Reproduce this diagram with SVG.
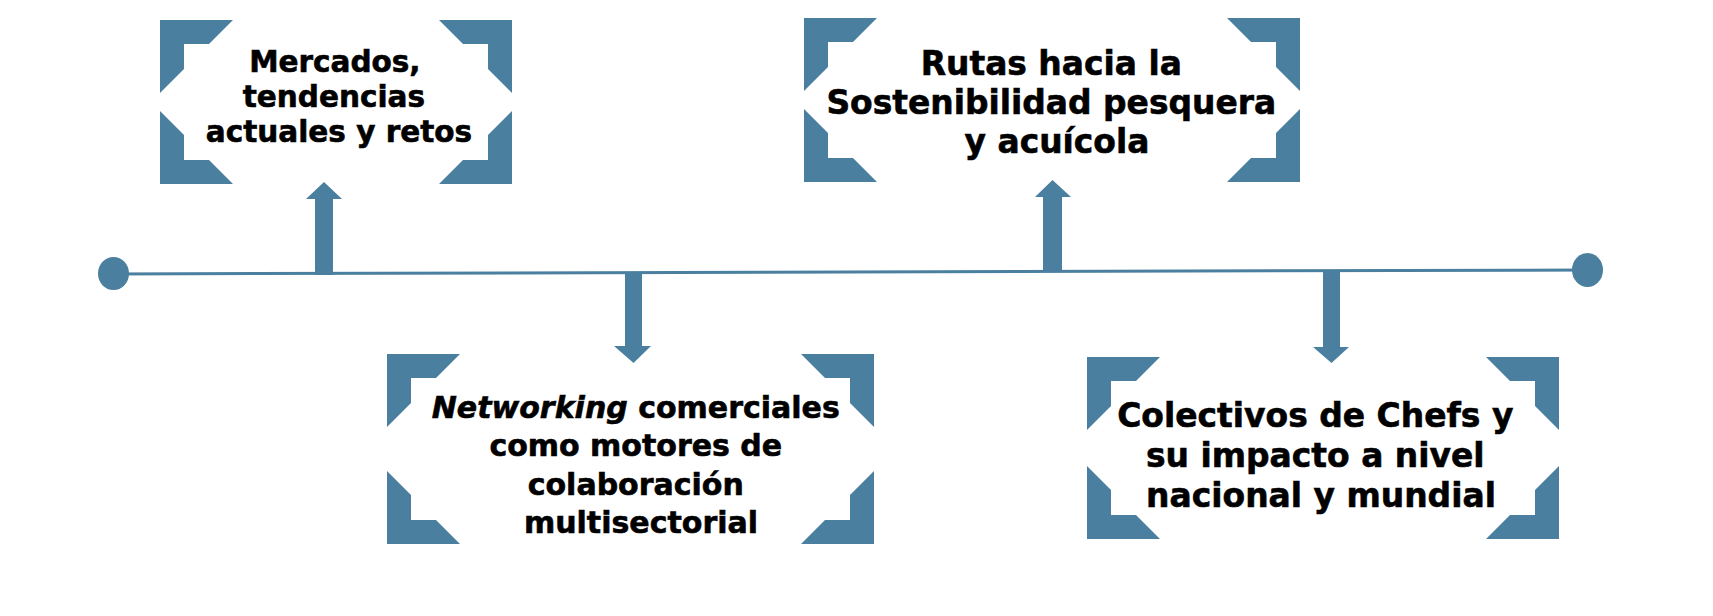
<svg xmlns="http://www.w3.org/2000/svg" width="1713" height="616" viewBox="0 0 1713 616">
<style>
  .br { fill: #4a7f9f; }
  .fl { fill: #4a7f9f; }
  .ln { stroke: #4a7f9f; stroke-width: 3; fill: none; }
  .t { font-family: "DejaVu Sans", "Verdana", sans-serif; font-weight: bold; fill: #000; stroke: #000; stroke-width: 0.6; text-anchor: middle; }
</style>
<defs>
  <path id="corner" d="M0,0 H73 L49,24 H24 V49 L0,73 Z"/>
</defs>
<rect width="1713" height="616" fill="#ffffff"/>

<g id="connectors">
  <line class="ln" x1="113" y1="274" x2="1587" y2="270"/>
  <ellipse class="fl" cx="113.5" cy="273.5" rx="15.5" ry="16.5"/>
  <ellipse class="fl" cx="1587.5" cy="270" rx="15.5" ry="17"/>
  <polygon class="fl" points="315,275 315,199 306,199 324,182 342,199 333,199 333,275"/>
  <polygon class="fl" points="625,272 642,272 642,346 651,346 633.5,363 614,346 625,346"/>
  <polygon class="fl" points="1043,272 1043,197 1035,197 1052.5,180 1071,197 1062,197 1062,272"/>
  <polygon class="fl" points="1323,271 1340,271 1340,347 1349,347 1331.5,363 1313,347 1323,347"/>
</g>

<g id="node-mercados">
  <use class="br" href="#corner" transform="translate(160,20)"/>
  <use class="br" href="#corner" transform="translate(512,20) scale(-1,1)"/>
  <use class="br" href="#corner" transform="translate(160,184) scale(1,-1)"/>
  <use class="br" href="#corner" transform="translate(512,184) scale(-1,-1)"/>
  <text class="t" font-size="29.5" x="339">
    <tspan x="340" y="72">Mercados,</tspan>
    <tspan x="339" y="107">tendencias</tspan>
    <tspan x="339" y="142">actuales y retos</tspan>
  </text>
</g>

<g id="node-rutas">
  <use class="br" href="#corner" transform="translate(804,18)"/>
  <use class="br" href="#corner" transform="translate(1300,18) scale(-1,1)"/>
  <use class="br" href="#corner" transform="translate(804,182) scale(1,-1)"/>
  <use class="br" href="#corner" transform="translate(1300,182) scale(-1,-1)"/>
  <text class="t" font-size="33.4" transform="translate(1057,0) scale(0.985,1)" x="0">
    <tspan x="0" y="75">Rutas hacia la</tspan>
    <tspan x="0" y="114">Sostenibilidad pesquera</tspan>
    <tspan x="0" y="153">y acuícola</tspan>
  </text>
</g>

<g id="node-networking">
  <use class="br" href="#corner" transform="translate(387,354)"/>
  <use class="br" href="#corner" transform="translate(874,354) scale(-1,1)"/>
  <use class="br" href="#corner" transform="translate(387,544) scale(1,-1)"/>
  <use class="br" href="#corner" transform="translate(874,544) scale(-1,-1)"/>
  <text class="t" font-size="30" x="641">
    <tspan x="641" y="418"><tspan font-style="italic">Networking</tspan> comerciales</tspan>
    <tspan x="641" y="456">como motores de</tspan>
    <tspan x="641" y="495">colaboración</tspan>
    <tspan x="641" y="533">multisectorial</tspan>
  </text>
</g>

<g id="node-colectivos">
  <use class="br" href="#corner" transform="translate(1087,357)"/>
  <use class="br" href="#corner" transform="translate(1559,357) scale(-1,1)"/>
  <use class="br" href="#corner" transform="translate(1087,539) scale(1,-1)"/>
  <use class="br" href="#corner" transform="translate(1559,539) scale(-1,-1)"/>
  <text class="t" font-size="34.3" transform="translate(1321,0) scale(0.96,1)" x="0">
    <tspan x="0" y="427">Colectivos de Chefs y</tspan>
    <tspan x="0" y="467">su impacto a nivel</tspan>
    <tspan x="0" y="507">nacional y mundial</tspan>
  </text>
</g>
</svg>
